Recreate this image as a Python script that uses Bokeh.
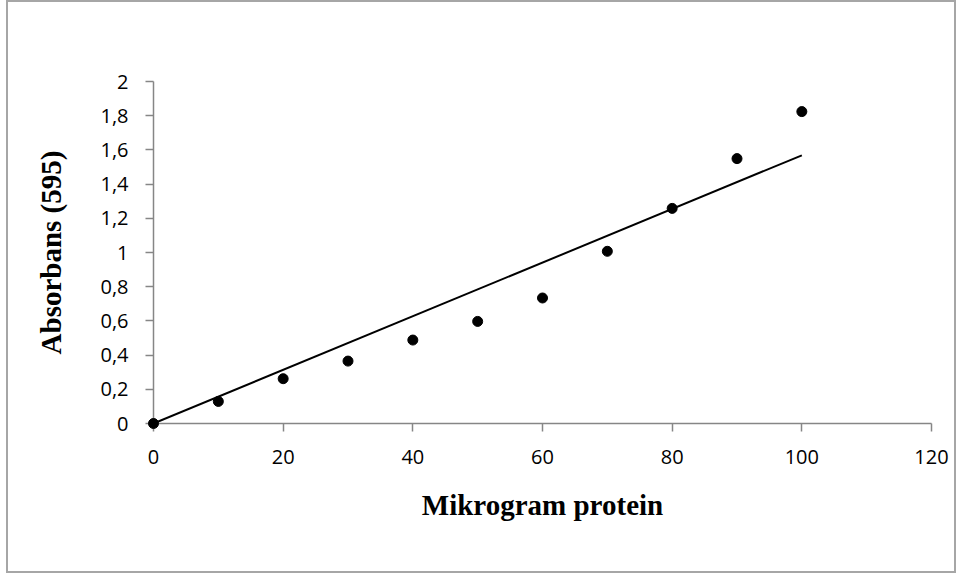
import numpy as np
from bokeh.plotting import figure
from bokeh.models import Range1d, FixedTicker
from bokeh.embed import file_html
from bokeh.resources import INLINE

# Data
protein_ug = [0, 10, 20, 30, 40, 50, 60, 70, 80, 90, 100]
absorbance = [0, 0.129, 0.262, 0.365, 0.488, 0.597, 0.734, 1.007, 1.258, 1.549, 1.824]

x_ticks = [0, 20, 40, 60, 80, 100, 120]
x_tick_labels = ["0", "20", "40", "60", "80", "100", "120"]
y_ticks = [0, 0.2, 0.4, 0.6, 0.8, 1.0, 1.2, 1.4, 1.6, 1.8, 2.0]
y_tick_labels = ["0", "0,2", "0,4", "0,6", "0,8", "1", "1,2", "1,4", "1,6", "1,8", "2"]

x_label = "Mikrogram protein"
y_label = "Absorbans (595)"

# Linear trend line through the origin (least squares)
xa = np.array(protein_ug, dtype=float)
ya = np.array(absorbance, dtype=float)
slope = float((xa * ya).sum() / (xa * xa).sum())
trend_x = [min(protein_ug), max(protein_ug)]
trend_y = [slope * v for v in trend_x]

p = figure(
    width=950, height=573,
    output_backend="svg", toolbar_location=None,
    x_range=Range1d(0, 120), y_range=Range1d(0, 2),
    min_border_left=145, min_border_right=27,
    min_border_top=79, min_border_bottom=152,
)
p.styles = {"border": "2px solid #a6a6a6", "margin-left": "6px"}
p.outline_line_color = None
p.xgrid.visible = False
p.ygrid.visible = False
p.background_fill_color = "white"
p.border_fill_color = "white"

p.line(trend_x, trend_y, line_color="black", line_width=2)
r = p.scatter(protein_ug, absorbance, size=10, fill_color="black", line_color="black")
r.level = "overlay"

tick_font = "Open Sans"
for ax, ticks, labels in ((p.xaxis[0], x_ticks, x_tick_labels), (p.yaxis[0], y_ticks, y_tick_labels)):
    ax.ticker = FixedTicker(ticks=ticks)
    ax.major_label_overrides = {t: l for t, l in zip(ticks, labels)}
    ax.minor_tick_line_color = None
    ax.major_tick_in = 0
    ax.major_tick_out = 8
    ax.axis_line_color = "#868686"
    ax.axis_line_width = 1.5
    ax.major_tick_line_color = "#868686"
    ax.major_tick_line_width = 1.5
    ax.major_label_text_font = tick_font
    ax.major_label_text_font_size = "20px"
    ax.major_label_text_color = "black"
    ax.axis_label_text_font = "Liberation Serif"
    ax.axis_label_text_font_style = "bold"
    ax.axis_label_text_font_size = "29px"
    ax.axis_label_text_color = "black"

p.xaxis.axis_label = x_label
p.yaxis.axis_label = y_label
p.xaxis.major_label_standoff = 18
p.yaxis.major_label_standoff = 17
p.xaxis.axis_label_standoff = 22
p.yaxis.axis_label_standoff = 30

open("out.html", "w").write(file_html(p, INLINE))
